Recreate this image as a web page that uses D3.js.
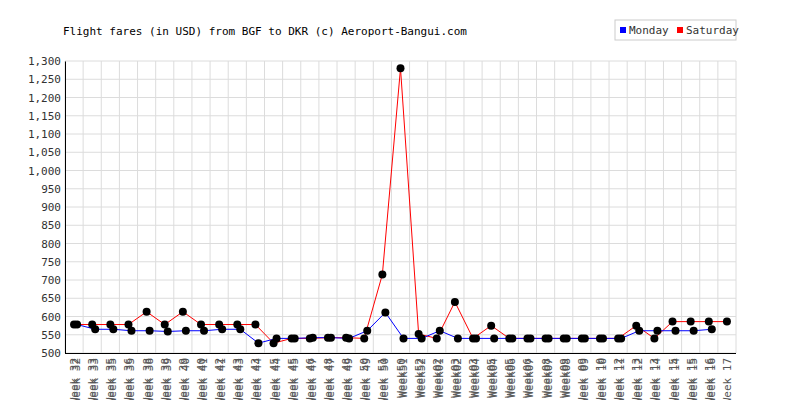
<!DOCTYPE html>
<html><head><meta charset="utf-8">
<script src="https://cdn.jsdelivr.net/npm/d3@7"></script>
<style>body{margin:0;background:#fff}</style>
</head><body><svg id="chart" width="800" height="400"></svg>
<script>
const saturdayLabels = ["Week 32","Week 33","Week 35","Week 36","Week 38","Week 38","Week 39","Week 40","Week 42","Week 43","Week 43","Week 45","Week 45","Week 46","Week 48","Week 48","Week 50","Week 51","Week50","Week52","Week02","Week03","Week03","Week05","Week05","Week06","Week08","Week09","Week 09","Week 10","Week 12","Week 13","Week 13","Week 15","Week 15","Week 16","Week 17"];
const mondayLabels = ["Week 32","Week 33","Week 35","Week 35","Week 38","Week 39","Week 40","Week 41","Week 41","Week 43","Week 44","Week 44","Week 45","Week 47","Week 47","Week 49","Week 49","Week 50","Week51","Week52","Week01","Week02","Week04","Week04","Week06","Week07","Week07","Week08","Week 09","Week 10","Week 11","Week 12","Week 14","Week 14","Week 15","Week 16",""];
const saturday = [578,578,578,578,613,578,613,578,578,578,578,527,540,540,542,542,540,715,1280,552,540,640,540,575,540,540,540,540,540,540,540,575,540,586,586,586,586];
const monday = [578,565,565,561,561,559,561,561,565,565,527,540,540,542,542,540,561,611,540,540,561,540,540,540,540,540,540,540,540,540,540,561,561,561,561,565,null];
const yTicks = d3.range(500, 1301, 50);

const svg = d3.select("#chart");
const mLeft = 65, mRight = 736, mTop = 61, mBottom = 353;
const font = "DejaVu Sans Mono";

const x = d3.scaleBand().domain(d3.range(saturday.length)).range([mLeft, mRight]);
const y = d3.scaleLinear().domain([500, 1300]).range([mBottom, mTop]);

// grid
svg.append("g").selectAll("line").data(yTicks).join("line")
  .attr("x1", mLeft).attr("x2", mRight).attr("y1", d => y(d)).attr("y2", d => y(d))
  .attr("stroke", "#dcdcdc");
svg.append("g").selectAll("line").data(d3.range(saturday.length + 1)).join("line")
  .attr("x1", i => mLeft + i * x.bandwidth()).attr("x2", i => mLeft + i * x.bandwidth())
  .attr("y1", mTop).attr("y2", mBottom).attr("stroke", "#dcdcdc");

// y axis
const ya = svg.append("g").attr("transform", `translate(${mLeft},0)`)
  .call(d3.axisLeft(y).tickValues(yTicks).tickSize(0).tickPadding(4));
ya.select(".domain").attr("stroke", "#000");
ya.selectAll("text").attr("font-family", font).attr("font-size", 11).attr("fill", "#333");

svg.append("line").attr("x1", mLeft).attr("x2", mRight).attr("y1", mBottom + 0.5).attr("y2", mBottom + 0.5)
  .attr("stroke", "#000");

// x labels (both series, overlapping like the original)
[[saturdayLabels, 0], [mondayLabels, 2]].forEach(([labels, off]) => {
  svg.append("g").selectAll("text").data(labels).join("text")
    .attr("transform", (d, i) => `translate(${x(i) + x.bandwidth() / 2 + 4 + off},${mBottom + 5}) rotate(-90)`)
    .attr("text-anchor", "end").attr("font-family", font).attr("font-size", 11)
    .attr("fill", "#555").text(d => d);
});

// series
const series = [[saturday, "#ff0000", 0], [monday, "#0000ff", 3]];
series.forEach(([vals, col, off]) => {
  const pts = vals.map((v, i) => [i, v]).filter(p => p[1] != null);
  const line = d3.line().x(p => x(p[0]) + x.bandwidth() / 2 + off).y(p => y(p[1]));
  svg.append("path").datum(pts).attr("d", line).attr("fill", "none").attr("stroke", col).attr("stroke-width", 1);
});
series.forEach(([vals, col, off]) => {
  const pts = vals.map((v, i) => [i, v]).filter(p => p[1] != null);
  svg.append("g").selectAll("circle").data(pts).join("circle")
    .attr("cx", p => x(p[0]) + x.bandwidth() / 2 + off).attr("cy", p => y(p[1]))
    .attr("r", 4).attr("fill", "#000");
});

// title
svg.append("text").attr("x", 63).attr("y", 35).attr("font-family", font).attr("font-size", 11)
  .text("Flight fares (in USD) from BGF to DKR (c) Aeroport-Bangui.com");

// legend
const lg = svg.append("g").attr("transform", "translate(615,20)");
lg.append("rect").attr("width", 121).attr("height", 20).attr("fill", "#fff").attr("stroke", "#ccc");
[["Monday", "#0000ff", 5], ["Saturday", "#ff0000", 62]].forEach(([t, c, lx]) => {
  lg.append("rect").attr("x", lx).attr("y", 7).attr("width", 6).attr("height", 6).attr("fill", c);
  lg.append("text").attr("x", lx + 9).attr("y", 14).attr("font-family", font).attr("font-size", 11)
    .attr("fill", "#333").text(t);
});
</script></body></html>
